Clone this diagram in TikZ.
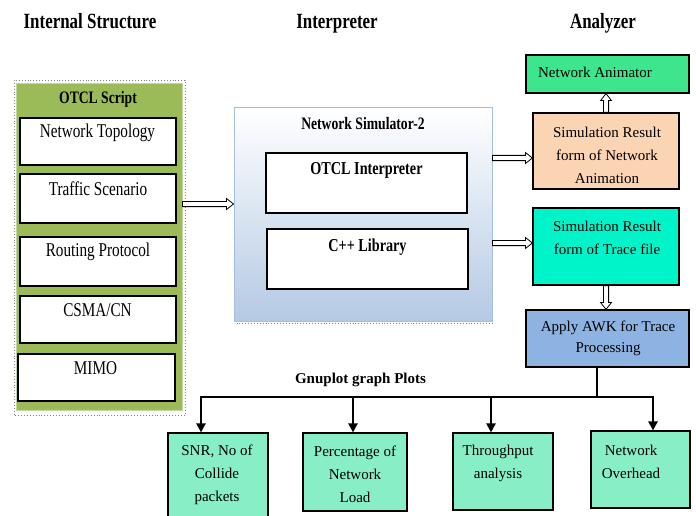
\documentclass[tikz,border=0pt]{standalone}
\usepackage{fontspec}
\setmainfont{Liberation Serif}
\newfontfamily\condfont[FakeStretch=0.78]{Liberation Serif}
\usetikzlibrary{calc,arrows.meta}
\definecolor{olivegreen}{HTML}{9BBB59}
\definecolor{nsblue}{HTML}{B4C9E3}
\definecolor{nsborder}{HTML}{A6BEDD}
\definecolor{animgreen}{HTML}{3DE68C}
\definecolor{peach}{HTML}{FBD4B4}
\definecolor{tracecyan}{HTML}{00F4C9}
\definecolor{awkblue}{HTML}{8DB3E2}
\definecolor{mint}{HTML}{88EEC6}
\begin{document}
\begin{tikzpicture}[x=1pt,y=-1pt,
  box/.style={draw=black, line width=1.2pt, inner sep=0pt},
  wbox/.style={box, fill=white},
  title/.style={inner sep=0pt, font=\condfont\bfseries\fontsize{21.7}{24}\selectfont, text height=0.7em, text depth=0.22em},
  chead/.style={inner sep=0pt, font=\condfont\bfseries\fontsize{17.5}{20}\selectfont, text height=0.7em, text depth=0.22em},
  ctxt/.style={inner sep=0pt, font=\condfont\fontsize{19.5}{22}\selectfont, text height=0.7em, text depth=0.22em},
  rtxt/.style={inner sep=0pt, align=center, font=\fontsize{15}{23}\selectfont},
  hollow/.style={draw=black, line width=0.8pt, fill=white, line join=miter, to path={
    ($(\tikztostart)!2.6pt!90:(\tikztotarget)$)
    -- ($($(\tikztotarget)!7pt!(\tikztostart)$)!2.6pt!90:(\tikztotarget)$)
    -- ($($(\tikztotarget)!7pt!(\tikztostart)$)!5.5pt!90:(\tikztotarget)$)
    -- (\tikztotarget)
    -- ($($(\tikztotarget)!7pt!(\tikztostart)$)!5.5pt!-90:(\tikztotarget)$)
    -- ($($(\tikztotarget)!7pt!(\tikztostart)$)!2.6pt!-90:(\tikztotarget)$)
    -- ($(\tikztostart)!2.6pt!-90:(\tikztotarget)$) -- cycle}},
  bus/.style={line width=2.3pt, line join=miter},
  busarrow/.style={line width=2.3pt, line join=miter, -{Triangle[length=9pt,width=9pt]}}
]
\useasboundingbox (0,0) rectangle (696,516);
\clip (0,0) rectangle (696,516);
\fill[white] (0,0) rectangle (696,516);

% titles
\node[title] (t1) at (90,26) {Internal Structure};
\node[title] (t2) at (337,26) {Interpreter};
\node[title] (t3) at (603,26) {Analyzer};

% internal structure
\draw[gray, dotted, line width=0.9pt] (14,80) rectangle (185,415);
\node[draw=olivegreen!60!white, line width=1pt, fill=olivegreen, minimum width=166, minimum height=326, inner sep=0pt] (ot) at (99,247) {};
\node[chead] (ott) at (98,101) {OTCL Script};
\node[wbox, minimum width=156, minimum height=47] (nt) at (98,141.5) {};
\node[ctxt] (ntt) at (97.5,135) {Network Topology};
\node[wbox, minimum width=156, minimum height=49] (ts) at (98,198.5) {};
\node[ctxt] (tst) at (98,193) {Traffic Scenario};
\node[wbox, minimum width=156, minimum height=49] (rp) at (98,261.5) {};
\node[ctxt] (rpt) at (98,254.5) {Routing Protocol};
\node[wbox, minimum width=156, minimum height=47] (cs) at (98,319.5) {};
\node[ctxt] (cst) at (97.5,314.5) {CSMA/CN};
\node[wbox, minimum width=157, minimum height=47] (mi) at (96.5,377.5) {};
\node[ctxt] (mit) at (95.5,372.5) {MIMO};

% interpreter
\node[draw=nsborder, line width=1pt, top color=white, bottom color=nsblue, minimum width=258, minimum height=213, inner sep=0pt] (ns) at (363,214.5) {};
\draw[gray, dotted, line width=0.9pt] ($(ns.south west)+(3,2)$) -- ($(ns.south east)+(0,2)$);
\node[chead] (nst) at (363,127.5) {Network Simulator-2};
\node[wbox, minimum width=201, minimum height=60] (oi) at (366.5,183) {};
\node[chead, font=\condfont\bfseries\fontsize{18.2}{20}\selectfont] (oit) at (366.5,172.5) {OTCL Interpreter};
\node[wbox, minimum width=201, minimum height=60] (cl) at (367.5,259) {};
\node[chead, font=\condfont\bfseries\fontsize{18.2}{20}\selectfont] (clt) at (367.5,249) {C++ Library};

% analyzer
\node[box, fill=animgreen, minimum width=163, minimum height=38] (na) at (607.5,74) {};
\node[rtxt] (nat) at (595,72.5) {Network Animator};
\node[box, fill=peach, minimum width=146, minimum height=76] (pe) at (606,151) {};
\node[rtxt] (pet) at (607,155) {Simulation Result\\form of Network\\Animation};
\node[box, fill=tracecyan, minimum width=146, minimum height=77] (cy) at (606,246.5) {};
\node[rtxt] (cyt) at (607,238) {Simulation Result\\form of Trace file};
\node[box, fill=awkblue, minimum width=163, minimum height=57] (aw) at (607.5,338.5) {};
\node[rtxt, font=\fontsize{15}{21}\selectfont] (awt) at (608,338.5) {Apply AWK for Trace\\Processing};

% hollow arrows
\draw[hollow] (ot.east |- 0,204) to (ns.west |- 0,204);
\draw[hollow] (ns.east |- 0,158) to (pe.west |- 0,158);
\draw[hollow] (ns.east |- 0,243) to (cy.west |- 0,243);
\draw[hollow] (pe.north) to (pe.north |- na.south);
\draw[hollow] (cy.south) to (cy.south |- aw.north);

% plots
\node[inner sep=0pt, font=\bfseries\fontsize{15}{18}\selectfont, text height=0.7em, text depth=0.22em] (gp) at (360.5,381.5) {Gnuplot graph Plots};
\node[box, fill=mint, minimum width=100, minimum height=97] (sn) at (218,481.5) {};
\node[rtxt] (snt) at (217,474.5) {SNR, No of\\Collide\\packets};
\node[box, fill=mint, minimum width=104, minimum height=78] (pc) at (355,472) {};
\node[rtxt] (pct) at (355,474.5) {Percentage of\\Network\\Load};
\node[box, fill=mint, minimum width=100, minimum height=77] (th) at (503,471.5) {};
\node[rtxt] (tht) at (498,463.5) {Throughput\\analysis};
\node[box, fill=mint, minimum width=99, minimum height=77] (ov) at (640.5,469.5) {};
\node[rtxt] (ovt) at (631,462) {Network\\Overhead};

\coordinate (j) at (597,397);
\coordinate (b1) at (201,397);
\coordinate (b2) at (353,397);
\coordinate (b3) at (491,397);
\coordinate (b4) at (653,397);
\draw[line width=2pt] (aw.south -| j) -- (j);
\draw[bus] (b1) -- (b4);
\draw[busarrow] (b2) -- (b1) -- (b1 |- sn.north);
\draw[busarrow] (b3) -- (b4) -- (b4 |- ov.north);
\draw[busarrow] (b2) -- (b2 |- pc.north);
\draw[busarrow] (b3) -- (b3 |- th.north);
\end{tikzpicture}
\end{document}
